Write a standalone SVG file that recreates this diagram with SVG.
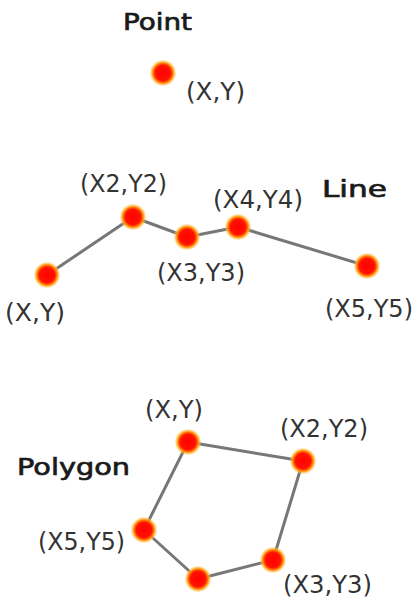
<svg xmlns="http://www.w3.org/2000/svg" width="414" height="601" viewBox="0 0 414 601">
<style>
.t{font-family:"DejaVu Sans",sans-serif;font-size:23px;font-weight:normal;fill:#1a1a1a;stroke:#1a1a1a;stroke-width:0.7}
.l{font-family:"DejaVu Sans",sans-serif;font-size:24px;fill:#333}
.c{stroke:#777;stroke-width:3;fill:none;stroke-linejoin:round}
.d{fill:url(#g)}
</style>
<defs>
<radialGradient id="g" cx="0.5" cy="0.5" r="0.5">
<stop offset="0" stop-color="#ff0000"/>
<stop offset="0.6" stop-color="#ff1400"/>
<stop offset="0.78" stop-color="#ff8a00"/>
<stop offset="1" stop-color="#ffd060" stop-opacity="0.3"/>
</radialGradient>
</defs>
<g id="connectors">
<polyline class="c" points="47,275 133,217 187,237 238,227 367,266"/>
<polygon class="c" points="188,442 303,461 273,560 198,579 144,530"/>
</g>
<g id="point-title"><text class="t" x="123" y="30" textLength="69" lengthAdjust="spacingAndGlyphs">Point</text></g>
<g id="point"><circle class="d" cx="163" cy="73" r="13"/><text class="l" x="186" y="100" textLength="59" lengthAdjust="spacingAndGlyphs">(X,Y)</text></g>
<g id="line-title"><text class="t" x="322" y="197" textLength="65" lengthAdjust="spacingAndGlyphs">Line</text></g>
<g id="line-p1"><circle class="d" cx="47" cy="275" r="13"/><text class="l" x="5" y="321" textLength="60" lengthAdjust="spacingAndGlyphs">(X,Y)</text></g>
<g id="line-p2"><circle class="d" cx="133" cy="217" r="13"/><text class="l" x="80" y="192" textLength="87" lengthAdjust="spacingAndGlyphs">(X2,Y2)</text></g>
<g id="line-p3"><circle class="d" cx="187" cy="237" r="13"/><text class="l" x="157" y="281" textLength="88" lengthAdjust="spacingAndGlyphs">(X3,Y3)</text></g>
<g id="line-p4"><circle class="d" cx="238" cy="227" r="13"/><text class="l" x="213" y="208" textLength="90" lengthAdjust="spacingAndGlyphs">(X4,Y4)</text></g>
<g id="line-p5"><circle class="d" cx="367" cy="266" r="13"/><text class="l" x="325" y="317" textLength="88" lengthAdjust="spacingAndGlyphs">(X5,Y5)</text></g>
<g id="polygon-title"><text class="t" x="17" y="475" textLength="113" lengthAdjust="spacingAndGlyphs">Polygon</text></g>
<g id="poly-p1"><circle class="d" cx="188" cy="442" r="13"/><text class="l" x="145" y="418" textLength="58" lengthAdjust="spacingAndGlyphs">(X,Y)</text></g>
<g id="poly-p2"><circle class="d" cx="303" cy="461" r="13"/><text class="l" x="280" y="437" textLength="88" lengthAdjust="spacingAndGlyphs">(X2,Y2)</text></g>
<g id="poly-p3"><circle class="d" cx="273" cy="560" r="13"/><text class="l" x="283" y="593" textLength="89" lengthAdjust="spacingAndGlyphs">(X3,Y3)</text></g>
<g id="poly-p4"><circle class="d" cx="198" cy="579" r="13"/></g>
<g id="poly-p5"><circle class="d" cx="144" cy="530" r="13"/><text class="l" x="38" y="550" textLength="87" lengthAdjust="spacingAndGlyphs">(X5,Y5)</text></g>
</svg>
